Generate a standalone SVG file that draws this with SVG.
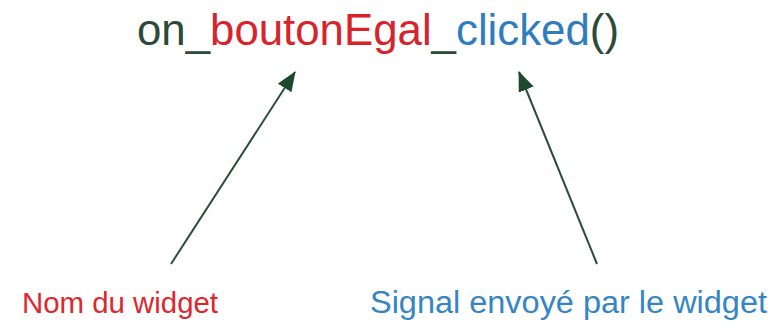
<svg xmlns="http://www.w3.org/2000/svg" width="774" height="329" viewBox="0 0 774 329">
<style>
text{font-family:"Liberation Sans",Arial,sans-serif}
.dk{fill:#2b4a38}
.rd{fill:#d9232b}
.bl{fill:#2f7cbf}
.conn{stroke:#2a4d38;stroke-width:2;fill:none}
</style>
<defs>
<marker id="ah2" viewBox="0 0 20 16" refX="19" refY="8" markerWidth="20" markerHeight="16" markerUnits="userSpaceOnUse" orient="auto">
<path d="M0,0 L20,8 L0,16 z" fill="#1d4a2c"/>
</marker>
</defs>
<rect width="774" height="329" fill="#ffffff"/>
<g id="title">
<text x="137" y="45" font-size="43.5" textLength="482" lengthAdjust="spacingAndGlyphs"><tspan class="dk">on_</tspan><tspan class="rd">boutonEgal</tspan><tspan class="dk">_</tspan><tspan class="bl">clicked</tspan><tspan class="dk">()</tspan></text>
</g>
<g id="nom">
<text x="22" y="313" font-size="30" textLength="196" lengthAdjust="spacingAndGlyphs" fill="#e0262d">Nom du widget</text>
</g>
<g id="signal">
<text x="370" y="313" font-size="31" textLength="397" lengthAdjust="spacingAndGlyphs" fill="#3585c4">Signal envoyé par le widget</text>
</g>
<g id="connectors">
<line class="conn" x1="171" y1="264" x2="295" y2="72" marker-end="url(#ah2)"/>
<line class="conn" x1="597" y1="264" x2="519" y2="72" marker-end="url(#ah2)"/>
</g>
</svg>
